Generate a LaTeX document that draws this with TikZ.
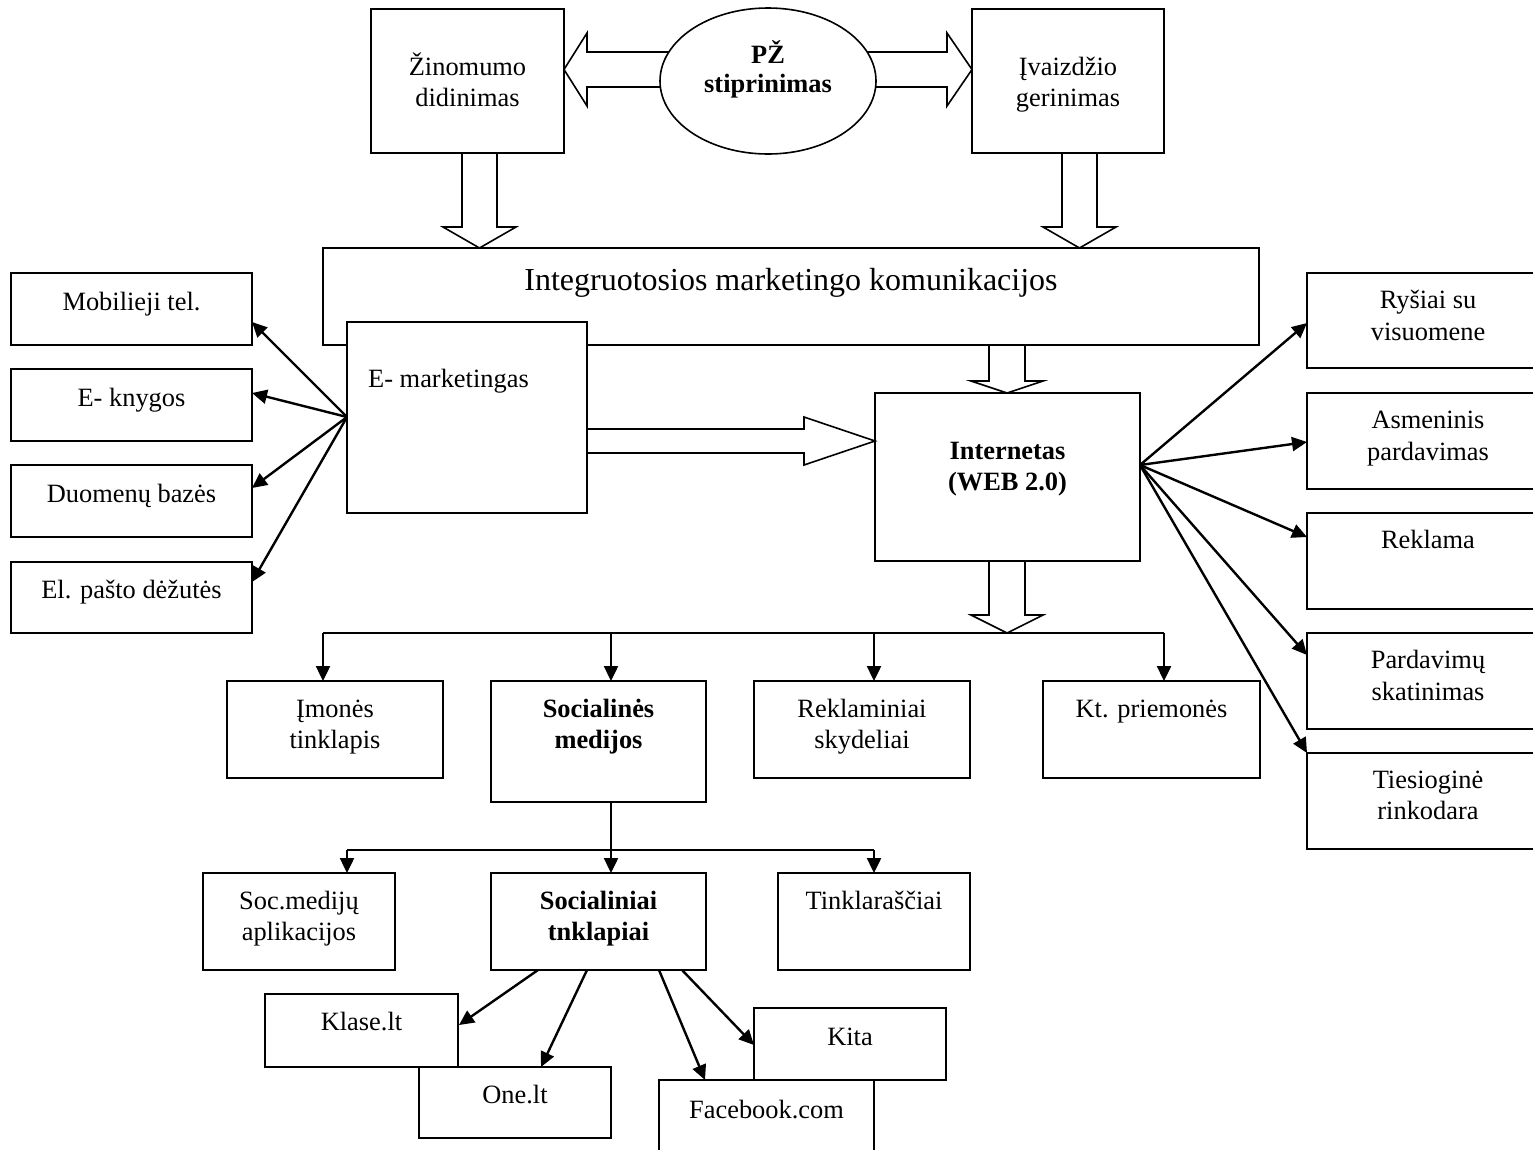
\documentclass[tikz,border=0pt]{standalone}
\usepackage{fontspec}
\setmainfont{Liberation Serif}
\usetikzlibrary{arrows.meta,calc,shapes.geometric}

% rectangle node given by its corners: name, x1, y1, x2, y2
\newcommand\rectbox[5]{%
  \node[box, anchor=north west, minimum width={(#4-#2)*1pt},
        minimum height={(#5-#3)*1pt}] (#1) at (#2,#3) {};}
% vertical block arrow pointing down: tip, tail y offset, head length, shaft half, head half
\newcommand\downblock[5]{%
  \draw[blockarrow, shift={(#1)}] (0,0) -- (-#5,-#3) -- (-#4,-#3) -- (-#4,-#2)
    -- (#4,-#2) -- (#4,-#3) -- (#5,-#3) -- cycle;}
% horizontal block arrow pointing right: tip, length, head length, shaft half, head half
\newcommand\rightblock[6][]{%
  \draw[blockarrow, shift={(#2)}, #1] (0,0) -- (-#4,-#6) -- (-#4,-#5) -- (-#3,-#5)
    -- (-#3,#5) -- (-#4,#5) -- (-#4,#6) -- cycle;}

\begin{document}
\begin{tikzpicture}[x=1pt, y=-1pt,
  box/.style={draw, line width=1.6pt, fill=white, inner sep=0pt, outer sep=0pt},
  blockarrow/.style={draw, line width=1.6pt, fill=white, line join=miter},
  lab/.style={inner sep=0pt, anchor=base, font=\fontsize{26.4}{31}\selectfont},
  blab/.style={lab, font=\fontsize{26.4}{31}\selectfont\bfseries},
  link/.style={line width=2.4pt, -{Triangle[length=15pt,width=14pt]}},
  wire/.style={line width=2.4pt}]
\useasboundingbox (0,0) rectangle (1533,1149);
\clip (0,0) rectangle (1533,1149);

% ---------- top: block arrows from the central ellipse ----------
\coordinate (zinTip) at (564,69.5);
\coordinate (ivzTip) at (972,69.5);
\rightblock[xscale=-1]{zinTip}{116}{23}{17.5}{36.5}
\rightblock{ivzTip}{112}{25}{17.5}{36.5}
\node[draw, ellipse, line width=1.6pt, fill=white, inner sep=0pt,
      minimum width=216pt, minimum height=146pt] (ell) at (768,81) {};

\rectbox{zin}{371}{9}{564}{153}
\rectbox{ivz}{972}{9}{1164}{153}

% ---------- integrated marketing communications ----------
\rectbox{imk}{323}{248}{1259}{345}
\coordinate (imkTipL) at (479.5,248);
\coordinate (imkTipR) at (1079.5,248);
\downblock{imkTipL}{95}{21}{17.5}{36.5}
\downblock{imkTipR}{95}{21}{17.5}{36.5}

\rectbox{emk}{347}{322}{587}{513}
\rectbox{int}{875}{393}{1140}{561}
\coordinate (intTip) at (1007,393);
\coordinate (treeTip) at (1007,633);
\downblock{intTip}{48}{12}{18}{36}
\downblock{treeTip}{72}{18}{18}{36}
\coordinate (emkTip) at (875,441);
\rightblock{emkTip}{288}{71}{12}{24}

% ---------- left column ----------
\rectbox{mob}{11}{273}{252}{345}
\rectbox{ekn}{11}{369}{252}{441}
\rectbox{duo}{11}{465}{252}{537}
\rectbox{ela}{11}{562}{252}{633}
\coordinate (emkHub) at (347,417);
\coordinate (mobTip) at (252,322);
\coordinate (eknTip) at (252,393);
\coordinate (duoTip) at (252,488);
\coordinate (elaTip) at (252,582);
\foreach \t in {mobTip,eknTip,duoTip,elaTip} \draw[link] (emkHub) -- (\t);

% ---------- right column ----------
\rectbox{rys}{1307}{273}{1549}{368}
\rectbox{asm}{1307}{393}{1549}{489}
\rectbox{rek}{1307}{513}{1549}{609}
\rectbox{par}{1307}{633}{1549}{729}
\rectbox{tie}{1307}{753}{1549}{849}
\coordinate (intHub) at (1140,465);
\coordinate (rysTip) at (1307,323);
\coordinate (asmTip) at (1307,442);
\coordinate (rekTip) at (1307,537);
\coordinate (parTip) at (1307,655);
\coordinate (tieTip) at (1307,753);
\foreach \t in {rysTip,asmTip,rekTip,parTip,tieTip} \draw[link] (intHub) -- (\t);

% ---------- internet tools ----------
\rectbox{imo}{227}{681}{443}{778}
\rectbox{soc}{491}{681}{706}{802}
\rectbox{rkl}{754}{681}{970}{778}
\rectbox{kt}{1043}{681}{1260}{778}
\coordinate (br1) at (323,633);
\coordinate (br2) at (611,633);
\coordinate (br3) at (874,633);
\coordinate (br4) at (1164,633);
\draw[wire] (br1) -- (br4);
\draw[link] (br1) -- (br1 |- imo.north);
\draw[link] (br2) -- (br2 |- soc.north);
\draw[link] (br3) -- (br3 |- rkl.north);
\draw[link] (br4) -- (br4 |- kt.north);

% ---------- social media ----------
\rectbox{som}{203}{873}{395}{970}
\rectbox{sot}{491}{873}{706}{970}
\rectbox{tin}{778}{873}{970}{970}
\coordinate (socOut) at (611,802);
\coordinate (sb1) at (347,850);
\coordinate (sb2) at (611,850);
\coordinate (sb3) at (874,850);
\draw[wire] (socOut) -- (sb2);
\draw[wire] (sb1) -- (sb3);
\draw[link] (sb1) -- (sb1 |- som.north);
\draw[link] (sb2) -- (sb2 |- sot.north);
\draw[link] (sb3) -- (sb3 |- tin.north);

% ---------- social networks ----------
\rectbox{kla}{265}{994}{458}{1067}
\rectbox{one}{419}{1067}{611}{1138}
\rectbox{fb}{659}{1080}{874}{1160}
\rectbox{kit}{754}{1008}{946}{1080}
\coordinate (s1) at (538,970);
\coordinate (s2) at (587,970);
\coordinate (s3) at (659,970);
\coordinate (s4) at (682,970);
\coordinate (klaTip) at (459,1025);
\coordinate (oneTip) at (541,1067);
\coordinate (fbTip) at (705,1080);
\coordinate (kitTip) at (754,1045);
\draw[link] (s1) -- (klaTip);
\draw[link] (s2) -- (oneTip);
\draw[link] (s3) -- (fbTip);
\draw[link] (s4) -- (kitTip);

% ---------- texts ----------
\node[lab] (zin1) at (467.5,75) {Žinomumo};
\node[lab] (zin2) at (467.5,106) {didinimas};
\node[blab] (ell1) at (768,63) {PŽ};
\node[blab] (ell2) at (768,92) {stiprinimas};
\node[lab] (ivz1) at (1068,75) {Įvaizdžio};
\node[lab] (ivz2) at (1068,106) {gerinimas};
\node[lab, font=\fontsize{32}{38}\selectfont] (imk1) at (791,290)
  {Integruotosios marketingo komunikacijos};
\node[lab, anchor=base west] (emk1) at (368,387) {E- marketingas};
\node[blab] (int1) at (1007.5,459) {Internetas};
\node[blab] (int2) at (1007.5,490) {(WEB 2.0)};

\node[lab] (mob1) at (131.5,310) {Mobilieji tel.};
\node[lab] (ekn1) at (131.5,406) {E- knygos};
\node[lab] (duo1) at (131.5,502) {Duomenų bazės};
\node[lab] (ela1) at (131.5,598) {El. pašto dėžutės};

\node[lab] (rys1) at (1428,308) {Ryšiai su};
\node[lab] (rys2) at (1428,340) {visuomene};
\node[lab] (asm1) at (1428,428) {Asmeninis};
\node[lab] (asm2) at (1428,460) {pardavimas};
\node[lab] (rek1) at (1428,548) {Reklama};
\node[lab] (par1) at (1428,668) {Pardavimų};
\node[lab] (par2) at (1428,700) {skatinimas};
\node[lab] (tie1) at (1428,788) {Tiesioginė};
\node[lab] (tie2) at (1428,819) {rinkodara};

\node[lab] (imo1) at (335,717) {Įmonės};
\node[lab] (imo2) at (335,748) {tinklapis};
\node[blab] (soc1) at (598.5,717) {Socialinės};
\node[blab] (soc2) at (598.5,748) {medijos};
\node[lab] (rkl1) at (862,717) {Reklaminiai};
\node[lab] (rkl2) at (862,748) {skydeliai};
\node[lab] (kt1) at (1151.5,717) {Kt. priemonės};

\node[lab] (som1) at (299,909) {Soc.medijų};
\node[lab] (som2) at (299,940) {aplikacijos};
\node[blab] (sot1) at (598.5,909) {Socialiniai};
\node[blab] (sot2) at (598.5,940) {tnklapiai};
\node[lab] (tin1) at (874,909) {Tinklaraščiai};

\node[lab] (kla1) at (361.5,1030) {Klase.lt};
\node[lab] (one1) at (515,1103) {One.lt};
\node[lab] (kit1) at (850,1045) {Kita};
\node[lab] (fb1) at (766.5,1118) {Facebook.com};
\end{tikzpicture}
\end{document}
